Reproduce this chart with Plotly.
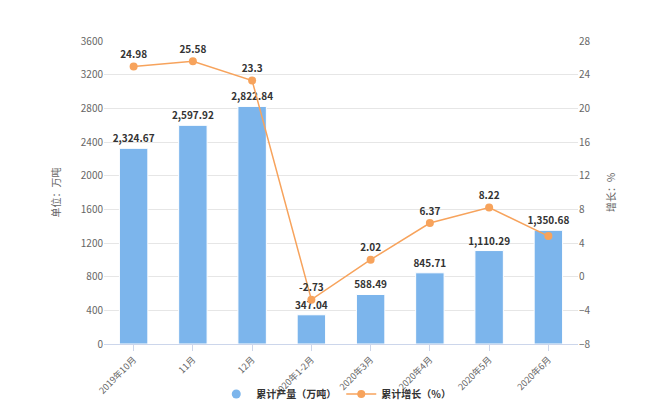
import plotly.graph_objects as go

categories = ["2019年10月", "11月", "12月", "2020年1-2月", "2020年3月", "2020年4月", "2020年5月", "2020年6月"]
output_values = [2324.67, 2597.92, 2822.84, 347.04, 588.49, 845.71, 1110.29, 1350.68]
growth_values = [24.98, 25.58, 23.3, -2.73, 2.02, 6.37, 8.22, 4.82]
growth_labels = ["24.98", "25.58", "23.3", "-2.73", "2.02", "6.37", "8.22", ""]
left_ticks = [0, 400, 800, 1200, 1600, 2000, 2400, 2800, 3200, 3600]
right_ticks = [-8, -4, 0, 4, 8, 12, 16, 20, 24, 28]

FONT = "Noto Sans CJK SC, Noto Sans, sans-serif"
label_font = dict(family=FONT, size=10, color="#333333", weight="bold")
BLUE = "#7cb5ec"
ORANGE = "#f7a35c"

fig = go.Figure()
fig.add_trace(go.Bar(
    x=categories, y=output_values, name="累计产量（万吨）",
    marker=dict(color=BLUE, line=dict(color="#ffffff", width=1)),
    text=[f"{v:,.2f}" for v in output_values], textposition="outside",
    constraintext="none",
    textfont=label_font, cliponaxis=False, yaxis="y", showlegend=False,
))
# legend entry with circle symbol for the bar series
fig.add_trace(go.Scatter(
    x=[None], y=[None], name="累计产量（万吨）", mode="markers",
    marker=dict(color=BLUE, size=9, symbol="circle"), yaxis="y",
))
fig.add_trace(go.Scatter(
    x=categories, y=growth_values, name="累计增长（%）",
    mode="lines+markers+text",
    line=dict(color=ORANGE, width=1.5),
    marker=dict(color=ORANGE, size=8),
    text=growth_labels, textposition="top center",
    textfont=label_font, cliponaxis=False, yaxis="y2",
))

fig.update_layout(
    width=650, height=420,
    margin=dict(l=104, r=72, t=41, b=72),
    paper_bgcolor="white", plot_bgcolor="white",
    font=dict(family=FONT, size=11, color="#666666"),
    showlegend=True,
    legend=dict(orientation="h", x=0.49, xanchor="center", y=-0.165, yanchor="middle",
                bgcolor="rgba(0,0,0,0)",
                font=dict(family=FONT, size=10, color="#333333", weight="bold"),
                itemwidth=30, tracegroupgap=0),
    bargap=0.52,
    xaxis=dict(
        type="category", tickangle=-45, showgrid=False,
        showline=True, linecolor="#ccd6eb", linewidth=1,
        ticks="outside", ticklen=6, tickcolor="#ccd6eb",
        tickfont=dict(family=FONT, size=9, color="#666666"),
    ),
    yaxis=dict(
        range=[0, 3600], tickvals=left_ticks, showgrid=True, gridcolor="#e6e6e6",
        zeroline=False, showline=False,
        tickfont=dict(family=FONT, size=10, color="#666666"),
        title=dict(text="单位：万吨", font=dict(family=FONT, size=10, color="#666666"), standoff=18),
    ),
    yaxis2=dict(
        range=[-8, 28], tickvals=right_ticks, overlaying="y", side="right",
        showgrid=False, zeroline=False, showline=False,
        tickfont=dict(family=FONT, size=10, color="#666666"),
        title=dict(text="增长：%", font=dict(family=FONT, size=10, color="#666666"), standoff=18),
    ),
)

fig.write_html("out.html")
